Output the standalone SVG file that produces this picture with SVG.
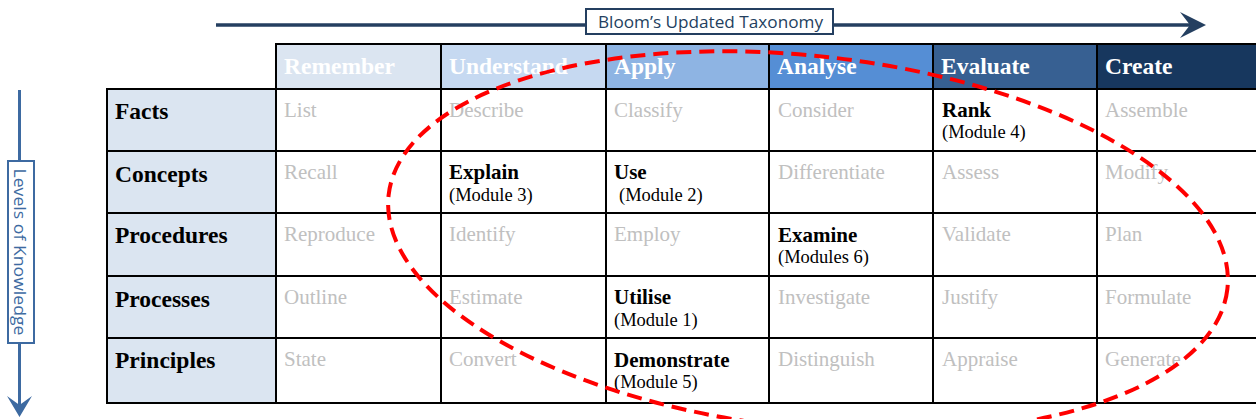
<svg xmlns="http://www.w3.org/2000/svg" width="1256" height="419" viewBox="0 0 1256 419">
<style>
.hd{font-family:"Liberation Serif","Times New Roman",serif;font-weight:bold;font-size:23.5px;fill:#ffffff}
.rh{font-family:"Liberation Serif","Times New Roman",serif;font-weight:bold;font-size:23.5px;fill:#000000}
.g{font-family:"Liberation Serif","Times New Roman",serif;font-size:21px;fill:#c0c0c0}
.b{font-family:"Liberation Serif","Times New Roman",serif;font-weight:bold;font-size:21px;fill:#000000}
.s{font-family:"Liberation Serif","Times New Roman",serif;font-size:18.5px;fill:#000000}
.grid{stroke:#000000;stroke-width:2;fill:none}
.ax{font-family:"Open Sans","Liberation Sans",sans-serif;font-size:17px}
</style>
<rect width="1256" height="419" fill="#ffffff"/>

<g id="connectors">
  <g id="top-axis">
    <line x1="216" y1="25" x2="1192" y2="25" stroke="#243f60" stroke-width="3.5"/>
    <polygon points="1206,25 1180,12 1190,25 1180,38" fill="#243f60"/>
  </g>
  <g id="left-axis">
    <line x1="19.5" y1="90" x2="19.5" y2="406" stroke="#3d6aa1" stroke-width="3"/>
    <polygon points="19.5,417 7,396 19.5,405 32,396" fill="#3d6aa1"/>
  </g>
</g>

<g id="title-taxonomy">
  <rect x="586" y="9" width="247" height="25" fill="#ffffff" stroke="#243f60" stroke-width="2"/>
  <text x="598" y="28" class="ax" fill="#243f60" textLength="225" lengthAdjust="spacingAndGlyphs">Bloom’s Updated Taxonomy</text>
</g>

<g id="title-knowledge">
  <rect x="8" y="161" width="26" height="182" fill="#ffffff" stroke="#3d6aa1" stroke-width="2"/>
  <text transform="translate(14,252) rotate(90)" x="0" y="0" text-anchor="middle" class="ax" fill="#3d6aa1" textLength="167" lengthAdjust="spacingAndGlyphs">Levels of Knowledge</text>
</g>

<g id="header">
  <g id="h-remember"><rect x="276" y="44" width="165" height="45" fill="#dbe5f1"/><text x="284" y="74" class="hd">Remember</text></g>
  <g id="h-understand"><rect x="441" y="44" width="165" height="45" fill="#c6d9f1"/><text x="449" y="74" class="hd">Understand</text></g>
  <g id="h-apply"><rect x="606" y="44" width="163" height="45" fill="#8eb4e3"/><text x="614" y="74" class="hd">Apply</text></g>
  <g id="h-analyse"><rect x="769" y="44" width="164" height="45" fill="#558ed5"/><text x="777" y="74" class="hd">Analyse</text></g>
  <g id="h-evaluate"><rect x="933" y="44" width="164" height="45" fill="#376092"/><text x="941" y="74" class="hd">Evaluate</text></g>
  <g id="h-create"><rect x="1097" y="44" width="159" height="45" fill="#17375e"/><text x="1105" y="74" class="hd">Create</text></g>
</g>

<g id="row-headers">
  <rect x="107" y="89" width="169" height="314" fill="#dbe5f1"/>
  <g id="r-facts"><text x="115" y="119" class="rh">Facts</text></g>
  <g id="r-concepts"><text x="115" y="182" class="rh">Concepts</text></g>
  <g id="r-procedures"><text x="115" y="243" class="rh">Procedures</text></g>
  <g id="r-processes"><text x="115" y="307" class="rh">Processes</text></g>
  <g id="r-principles"><text x="115" y="368" class="rh">Principles</text></g>
</g>

<g id="cells">
  <g id="c-list"><text x="284" y="117" class="g">List</text></g>
  <g id="c-describe"><text x="449" y="117" class="g">Describe</text></g>
  <g id="c-classify"><text x="614" y="117" class="g">Classify</text></g>
  <g id="c-consider"><text x="778" y="117" class="g">Consider</text></g>
  <g id="c-rank"><text x="942" y="117" class="b">Rank</text><text x="942" y="138" class="s">(Module 4)</text></g>
  <g id="c-assemble"><text x="1105" y="117" class="g">Assemble</text></g>
  <g id="c-recall"><text x="284" y="179" class="g">Recall</text></g>
  <g id="c-explain"><text x="449" y="179" class="b">Explain</text><text x="449" y="201" class="s">(Module 3)</text></g>
  <g id="c-use"><text x="614" y="179" class="b">Use</text><text x="619" y="201" class="s">(Module 2)</text></g>
  <g id="c-differentiate"><text x="778" y="179" class="g">Differentiate</text></g>
  <g id="c-assess"><text x="942" y="179" class="g">Assess</text></g>
  <g id="c-modify"><text x="1105" y="179" class="g">Modify</text></g>
  <g id="c-reproduce"><text x="284" y="241" class="g">Reproduce</text></g>
  <g id="c-identify"><text x="449" y="241" class="g">Identify</text></g>
  <g id="c-employ"><text x="614" y="241" class="g">Employ</text></g>
  <g id="c-examine"><text x="778" y="242" class="b">Examine</text><text x="778" y="263" class="s">(Modules 6)</text></g>
  <g id="c-validate"><text x="942" y="241" class="g">Validate</text></g>
  <g id="c-plan"><text x="1105" y="241" class="g">Plan</text></g>
  <g id="c-outline"><text x="284" y="304" class="g">Outline</text></g>
  <g id="c-estimate"><text x="449" y="304" class="g">Estimate</text></g>
  <g id="c-utilise"><text x="614" y="304" class="b">Utilise</text><text x="614" y="326" class="s">(Module 1)</text></g>
  <g id="c-investigate"><text x="778" y="304" class="g">Investigate</text></g>
  <g id="c-justify"><text x="942" y="304" class="g">Justify</text></g>
  <g id="c-formulate"><text x="1105" y="304" class="g">Formulate</text></g>
  <g id="c-state"><text x="284" y="366" class="g">State</text></g>
  <g id="c-convert"><text x="449" y="366" class="g">Convert</text></g>
  <g id="c-demonstrate"><text x="614" y="367" class="b">Demonstrate</text><text x="614" y="388" class="s">(Module 5)</text></g>
  <g id="c-distinguish"><text x="778" y="366" class="g">Distinguish</text></g>
  <g id="c-appraise"><text x="942" y="366" class="g">Appraise</text></g>
  <g id="c-generate"><text x="1105" y="366" class="g">Generate</text></g>
</g>

<g id="grid" class="grid">
  <line x1="275" y1="44" x2="1256" y2="44"/>
  <line x1="106" y1="89" x2="1256" y2="89"/>
  <line x1="106" y1="151" x2="1256" y2="151"/>
  <line x1="106" y1="213" x2="1256" y2="213"/>
  <line x1="106" y1="276" x2="1256" y2="276"/>
  <line x1="106" y1="338" x2="1256" y2="338"/>
  <line x1="106" y1="403" x2="1256" y2="403"/>
  <line x1="107" y1="88" x2="107" y2="404"/>
  <line x1="276" y1="43" x2="276" y2="404"/>
  <line x1="441" y1="43" x2="441" y2="404"/>
  <line x1="606" y1="43" x2="606" y2="404"/>
  <line x1="769" y1="43" x2="769" y2="404"/>
  <line x1="933" y1="43" x2="933" y2="404"/>
  <line x1="1097" y1="43" x2="1097" y2="404"/>
</g>

<g id="highlight">
  <ellipse cx="808" cy="242" rx="422" ry="186" transform="rotate(6.4 808 242)" fill="none" stroke="#ff0000" stroke-width="4" stroke-dasharray="15 8"/>
</g>
</svg>
